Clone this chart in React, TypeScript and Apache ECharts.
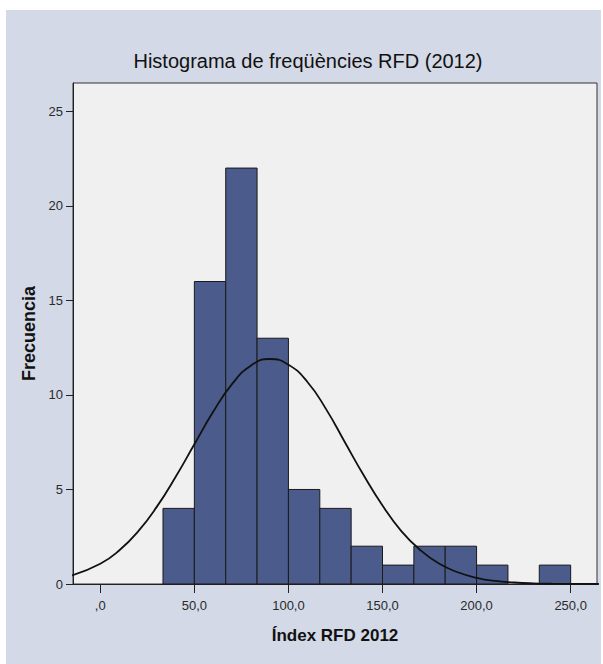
import React, { useEffect, useRef } from "react";
import * as echarts from "echarts";

// Histogram bins (edges) and frequencies
const binEdges = [33.33, 50, 66.67, 83.33, 100, 116.67, 133.33, 150, 166.67, 183.33, 200, 216.67, 233.33, 250];
const frequencies = [4, 16, 22, 13, 5, 4, 2, 1, 2, 2, 1, 0, 1];

// Fitted normal curve
const curveX = [-15, 0, 10, 20, 30, 40, 50, 60, 70, 80, 90, 100, 110, 120, 130, 140, 150, 160, 170, 180, 190, 200, 210, 220, 230, 240, 250, 260, 265];
const curveY = [0.45, 1.07, 1.77, 2.77, 4.08, 5.66, 7.39, 9.11, 10.57, 11.55, 11.9, 11.6, 10.7, 9.25, 7.5, 5.75, 4.15, 2.8, 1.8, 1.08, 0.62, 0.33, 0.16, 0.08, 0.035, 0.015, 0.006, 0.002, 0.001];

const xTicks = [0, 50, 100, 150, 200, 250];
const yTicks = [0, 5, 10, 15, 20, 25];

const titleText = "Histograma de freqüències RFD (2012)";
const xName = "Índex RFD 2012";
const yName = "Frecuencia";

const FONT = "'Liberation Sans', Arial, Helvetica, sans-serif";

export default function App() {
  const ref = useRef<HTMLDivElement>(null);

  useEffect(() => {
    if (!ref.current) return;
    const chart = echarts.init(ref.current, undefined, { renderer: "svg" });

    const barData = frequencies.map((f, i) => [binEdges[i], binEdges[i + 1], f]);
    const lineData = curveX.map((x, i) => [x, curveY[i]]);

    chart.setOption({
      animation: false,
      backgroundColor: "#d3d9e6",
      graphic: [
        {
          type: "text",
          x: 302,
          y: 51,
          style: {
            text: titleText,
            align: "center",
            verticalAlign: "middle",
            fontFamily: FONT,
            fontSize: 20,
            fill: "#111",
          },
        },
      ],
      grid: {
        left: 67,
        right: 4,
        top: 73,
        bottom: 80,
        show: true,
        backgroundColor: "#f0f0f0",
        borderColor: "#333",
        borderWidth: 1,
      },
      xAxis: {
        type: "value",
        min: -14.5,
        max: 264,
        splitLine: { show: false },
        axisLine: { show: true, onZero: false, lineStyle: { color: "#222", width: 1 } },
        axisTick: { show: true, length: 9, customValues: xTicks, lineStyle: { color: "#222" } },
        axisLabel: {
          customValues: xTicks,
          margin: 15,
          fontSize: 13,
          fontFamily: FONT,
          color: "#2a2a2a",
          formatter: (v: number) => (v === 0 ? ",0" : v.toFixed(1).replace(".", ",")),
        },
        name: xName,
        nameLocation: "middle",
        nameGap: 43,
        nameTextStyle: { fontFamily: FONT, fontSize: 17, fontWeight: "bold", color: "#111" },
      },
      yAxis: {
        type: "value",
        min: 0,
        max: 26.5,
        splitLine: { show: false },
        axisLine: { show: true, onZero: false, lineStyle: { color: "#222", width: 1 } },
        axisTick: { show: true, length: 7, customValues: yTicks, lineStyle: { color: "#222" } },
        axisLabel: {
          customValues: yTicks,
          margin: 10,
          fontSize: 13,
          fontFamily: FONT,
          color: "#2a2a2a",
        },
        name: yName,
        nameLocation: "middle",
        nameGap: 31,
        nameTextStyle: { fontFamily: FONT, fontSize: 18, fontWeight: "bold", color: "#111" },
      },
      series: [
        {
          type: "custom",
          data: barData,
          encode: { x: [0, 1], y: 2 },
          z: 2,
          renderItem: (params: any, api: any) => {
            const x0 = api.value(0);
            const x1 = api.value(1);
            const c = api.value(2);
            if (!c) return { type: "group", children: [] };
            const p0 = api.coord([x0, 0]);
            const p1 = api.coord([x1, c]);
            return {
              type: "rect",
              shape: { x: p0[0], y: p1[1], width: p1[0] - p0[0], height: p0[1] - p1[1] },
              style: { fill: "#4b5b8b", stroke: "#1a1a1a", lineWidth: 1 },
            };
          },
        },
        {
          type: "line",
          data: lineData,
          smooth: true,
          showSymbol: false,
          symbol: "none",
          z: 3,
          lineStyle: { color: "#111", width: 1.8 },
        },
      ],
    });

    return () => chart.dispose();
  }, []);

  return (
    <div
      ref={ref}
      style={{ position: "absolute", left: 6, top: 10, width: 595, height: 654 }}
    />
  );
}
